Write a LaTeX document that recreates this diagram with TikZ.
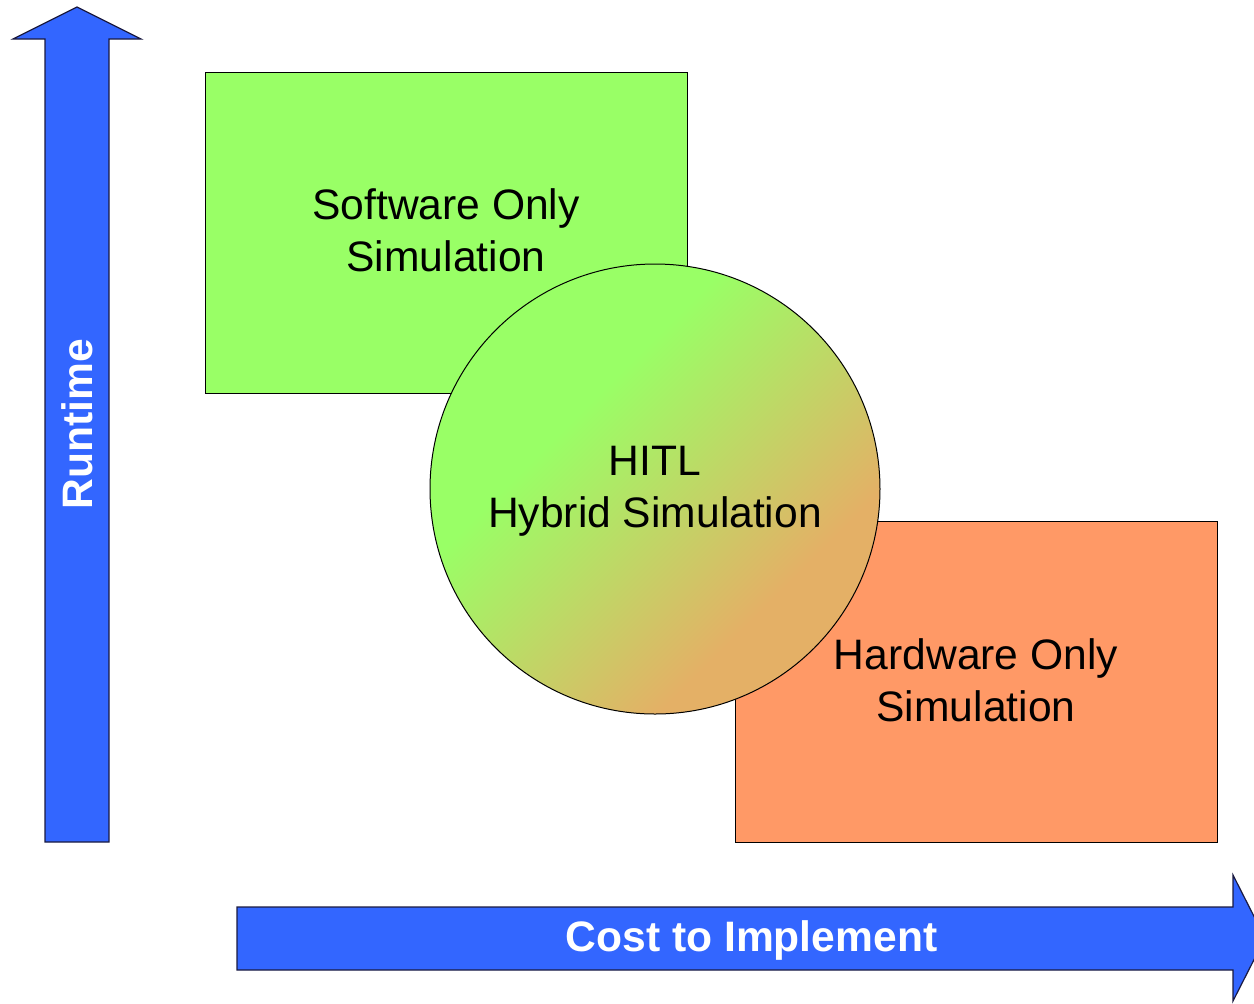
\documentclass[tikz,border=0pt]{standalone}
\usepackage{fontspec}
\setmainfont{Liberation Sans}
\definecolor{axisblue}{HTML}{3366FF}
\definecolor{axisedge}{HTML}{1A1A40}
\definecolor{swgreen}{HTML}{99FF66}
\definecolor{hworange}{HTML}{FF9966}
\definecolor{mixtan}{HTML}{E4B066}
% green in the upper-left part of the disc, fading to tan at the lower right
\pgfdeclarehorizontalshading{hitlshade}{100bp}{color(0bp)=(swgreen); color(38bp)=(swgreen); color(68bp)=(mixtan); color(100bp)=(mixtan)}
\tikzset{
  axisarrow/.style={fill=axisblue, draw=axisedge, line width=0.6pt, line join=miter},
  axislabel/.style={text=white, font=\fontsize{21.3}{26}\selectfont\bfseries, inner sep=0pt},
  region/.style={draw=black, line width=0.5pt, minimum width=241pt, minimum height=160.5pt, inner sep=0pt},
  regiontext/.style={font=\fontsize{21.3}{26}\selectfont, align=center, inner sep=0pt, text=black},
}
\begin{document}
\begin{tikzpicture}[x=0.5pt, y=-0.5pt]
  \useasboundingbox (0,0) rectangle (1254,1003);
  \clip (0,0) rectangle (1254,1003);

  % vertical axis arrow
  \draw[axisarrow] (45,842) -- (45,39) -- (13,39) -- (77,7) -- (141,39) -- (109,39) -- (109,842) -- cycle;
  \node[axislabel, rotate=90] (runtime) at (77,424) {Runtime};

  % horizontal axis arrow
  \draw[axisarrow] (237,907) -- (1233,907) -- (1233,875) -- (1265,938) -- (1233,1001) -- (1233,970) -- (237,970) -- cycle;
  \node[axislabel] (cost) at (751.5,940) {Cost to Implement};

  % the two simulation regions
  \node[region, fill=swgreen] (sw) at (446,232.5) {};
  \node[region, fill=hworange] (hw) at (976,681.5) {};

  % the hybrid region over both
  \node[circle, draw=black, line width=0.5pt, minimum size=225pt, inner sep=0pt,
        shading=hitlshade, shading angle=-45] (hitl) at (655,489) {};

  \node[regiontext] (swtext) at (446,230) {Software Only\\Simulation};
  \node[regiontext] (hitltext) at (655,491) {HITL\\Hybrid Simulation};
  \node[regiontext] (hwtext) at (976,680) {Hardware Only\\Simulation};
\end{tikzpicture}
\end{document}
